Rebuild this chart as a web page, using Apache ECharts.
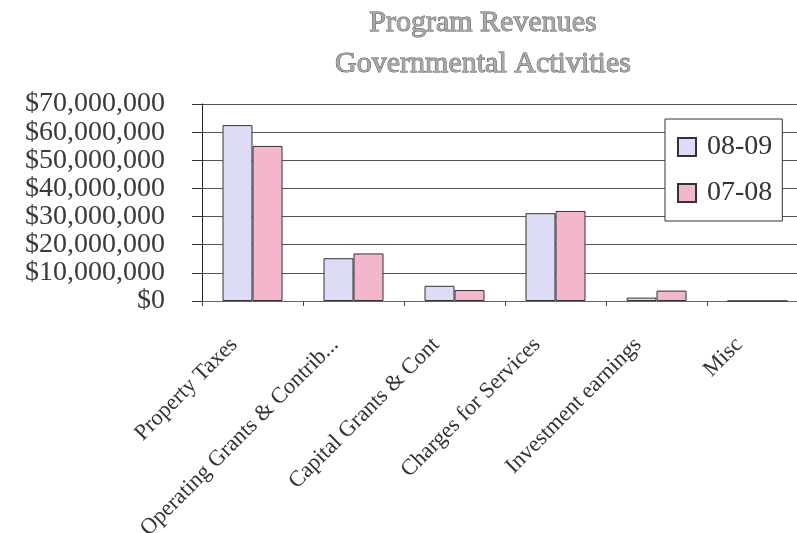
<!DOCTYPE html>
<html>
<head>
<meta charset="utf-8">
<script src="https://cdn.jsdelivr.net/npm/echarts@6/dist/echarts.min.js"></script>
<style>
html,body{margin:0;padding:0;background:#fff;overflow:hidden;}
#chart{width:797px;height:533px;}
</style>
</head>
<body>
<div id="chart"></div>
<script>
const categories = ['Property Taxes', 'Operating Grants & Contrib...', 'Capital Grants & Cont', 'Charges for Services', 'Investment earnings', 'Misc'];
const series0809 = [62500000, 15200000, 5400000, 31200000, 1200000, 0];
const series0708 = [55100000, 16900000, 3900000, 32000000, 3700000, 0];
const yTicks = { min: 0, max: 70000000, interval: 10000000 };

const serif = '"Liberation Serif", "Times New Roman", "DejaVu Serif", serif';
const chart = echarts.init(document.getElementById('chart'));
chart.setOption({
  backgroundColor: '#fff',
  animation: false,
  title: {
    text: 'Program Revenues\nGovernmental Activities',
    left: 478,
    top: -2,
    textAlign: 'center',
    textStyle: {
      fontFamily: serif,
      fontSize: 30,
      fontWeight: 'normal',
      lineHeight: 41,
      color: '#a8a8a8',
      textBorderColor: '#555',
      textBorderWidth: 0.9
    }
  },
  legend: {
    orient: 'vertical',
    left: 665,
    top: 119,
    width: 122,
    padding: [14, 10, 14, 12],
    itemGap: 18,
    itemWidth: 18,
    itemHeight: 18,
    backgroundColor: '#fff',
    borderColor: '#333',
    borderWidth: 1,
    borderRadius: 0,
    z: 10,
    icon: 'rect',
    textStyle: { fontFamily: serif, fontSize: 28, color: '#333', padding: [0, 0, 0, 6] },
    data: ['08-09', '07-08']
  },
  grid: { left: 202, right: -11, top: 104, bottom: 232, containLabel: false, outerBoundsMode: 'none' },
  xAxis: {
    type: 'category',
    data: categories,
    axisLine: { lineStyle: { color: '#666', width: 1 } },
    axisTick: { show: true, length: 5, interval: 0, lineStyle: { color: '#444' } },
    axisLabel: {
      interval: 0,
      rotate: 45,
      margin: 22,
      padding: [0, 26, 0, 0],
      fontFamily: serif,
      fontSize: 22.5,
      color: '#333',
      hideOverlap: false
    }
  },
  yAxis: {
    type: 'value',
    min: yTicks.min,
    max: yTicks.max,
    interval: yTicks.interval,
    axisLine: { show: true, lineStyle: { color: '#222', width: 1 } },
    axisTick: { show: true, length: 10, lineStyle: { color: '#333' } },
    splitLine: { lineStyle: { color: '#555', width: 1 } },
    axisLabel: {
      margin: 37,
      fontFamily: serif,
      fontSize: 28,
      color: '#3a3a3a',
      showMinLabel: true,
      showMaxLabel: true,
      hideOverlap: false,
      formatter: v => '$' + v.toLocaleString('en-US')
    }
  },
  series: [
    {
      name: '08-09',
      type: 'bar',
      data: series0809,
      barWidth: 30,
      barGap: '0%',
      itemStyle: { color: '#dcdcf4', borderColor: '#333', borderWidth: 1 }
    },
    {
      name: '07-08',
      type: 'bar',
      data: series0708,
      barWidth: 30,
      barGap: '0%',
      itemStyle: { color: '#f4b6cd', borderColor: '#333', borderWidth: 1 }
    }
  ]
});
</script>
</body>
</html>
